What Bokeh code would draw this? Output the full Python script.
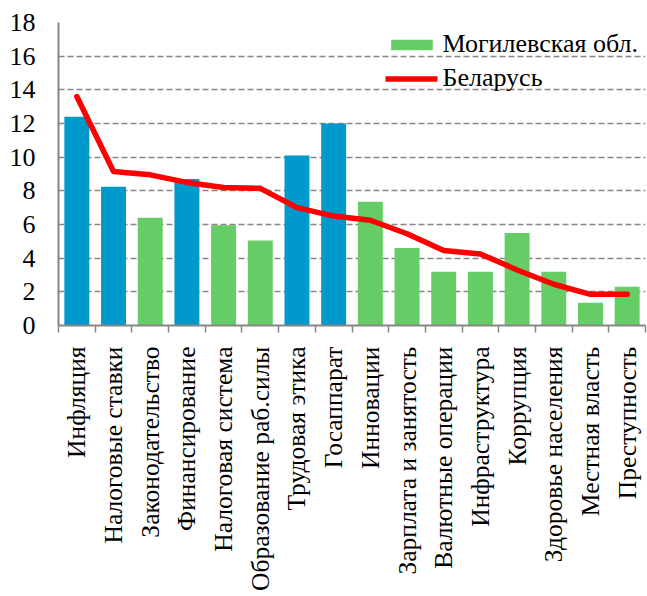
from bokeh.plotting import figure
from bokeh.models import Range1d, FixedTicker, Legend, LegendItem, ColumnDataSource
from bokeh.embed import file_html
from bokeh.resources import INLINE
import math

categories = ["Инфляция", "Налоговые ставки", "Законодательство", "Финансирование",
              "Налоговая система", "Образование раб.силы", "Трудовая этика", "Госаппарат",
              "Инновации", "Зарплата и занятость", "Валютные операции", "Инфраструктура",
              "Коррупция", "Здоровье населения", "Местная власть", "Преступность"]
mogilev = [12.4, 8.25, 6.4, 8.7, 5.95, 5.05, 10.1, 12.0, 7.35, 4.6, 3.2, 3.2, 5.5, 3.2, 1.35, 2.3]
belarus = [13.6, 9.15, 8.95, 8.5, 8.2, 8.15, 7.0, 6.5, 6.25, 5.45, 4.45, 4.25, 3.3, 2.45, 1.85, 1.85]
blue_group = [True, True, False, True, False, False, True, True,
              False, False, False, False, False, False, False, False]
y_ticks = [0, 2, 4, 6, 8, 10, 12, 14, 16, 18]

BLUE = "#0099CC"
GREEN = "#66CC66"
RED = "#FF0000"
GRAY = "#868686"
FONT = "Liberation Serif"

n = len(categories)
xs = list(range(1, n + 1))

blue_src = ColumnDataSource(dict(x=[x for x, b in zip(xs, blue_group) if b],
                                 top=[v for v, b in zip(mogilev, blue_group) if b]))
green_src = ColumnDataSource(dict(x=[x for x, b in zip(xs, blue_group) if not b],
                                  top=[v for v, b in zip(mogilev, blue_group) if not b]))
line_src = ColumnDataSource(dict(x=xs, y=belarus))

p = figure(width=647, height=596, x_range=Range1d(0.5, n + 0.5), y_range=Range1d(0, 18),
           output_backend="svg", toolbar_location=None,
           min_border_left=58, min_border_right=2, min_border_top=22, min_border_bottom=271)
p.outline_line_color = None
p.background_fill_color = "white"

p.xgrid.grid_line_color = None
p.ygrid.grid_line_color = GRAY
p.ygrid.grid_line_dash = "6 3"
p.ygrid.grid_line_width = 1.5
p.ygrid.ticker = FixedTicker(ticks=y_ticks)

rb = p.vbar(x="x", top="top", width=0.68, source=blue_src, fill_color=BLUE, line_color=None)
rg = p.vbar(x="x", top="top", width=0.68, source=green_src, fill_color=GREEN, line_color=None)
rl = p.line(x="x", y="y", source=line_src, line_color=RED, line_width=5.5,
            line_join="round", line_cap="round")

# y axis
yax = p.yaxis[0]
yax.ticker = FixedTicker(ticks=y_ticks)
yax.axis_line_color = GRAY
yax.axis_line_width = 2
yax.major_tick_line_color = None
yax.major_tick_out = 0
yax.major_tick_in = 0
yax.minor_tick_line_color = None
yax.major_label_standoff = 23
yax.major_label_text_font = FONT
yax.major_label_text_font_size = "26px"
yax.major_label_text_color = "black"

# x axis
xax = p.xaxis[0]
xax.ticker = FixedTicker(ticks=xs, minor_ticks=[x - 0.5 for x in xs] + [n + 0.5])
xax.major_label_overrides = {x: c for x, c in zip(xs, categories)}
xax.major_label_orientation = math.pi / 2
xax.axis_line_color = GRAY
xax.axis_line_width = 2
xax.major_tick_line_color = None
xax.major_tick_out = 0
xax.major_tick_in = 0
xax.minor_tick_line_color = GRAY
xax.minor_tick_line_width = 1.5
xax.minor_tick_out = 7
xax.minor_tick_in = 0
xax.major_label_standoff = 14
xax.major_label_text_font = FONT
xax.major_label_text_font_size = "25.5px"
xax.major_label_text_color = "black"

legend = Legend(items=[LegendItem(label="Могилевская обл.", renderers=[rg]),
                       LegendItem(label="Беларусь", renderers=[rl])],
                location="top_right", orientation="vertical",
                label_text_font=FONT, label_text_font_size="26px")
legend.border_line_color = None
legend.background_fill_alpha = 0
legend.label_text_color = "black"
legend.glyph_width = 52
legend.glyph_height = 13
legend.label_height = 28
legend.spacing = 4
legend.label_standoff = 5
legend.padding = 0
legend.margin = 7
p.add_layout(legend)

open("out.html", "w").write(file_html(p, INLINE))
